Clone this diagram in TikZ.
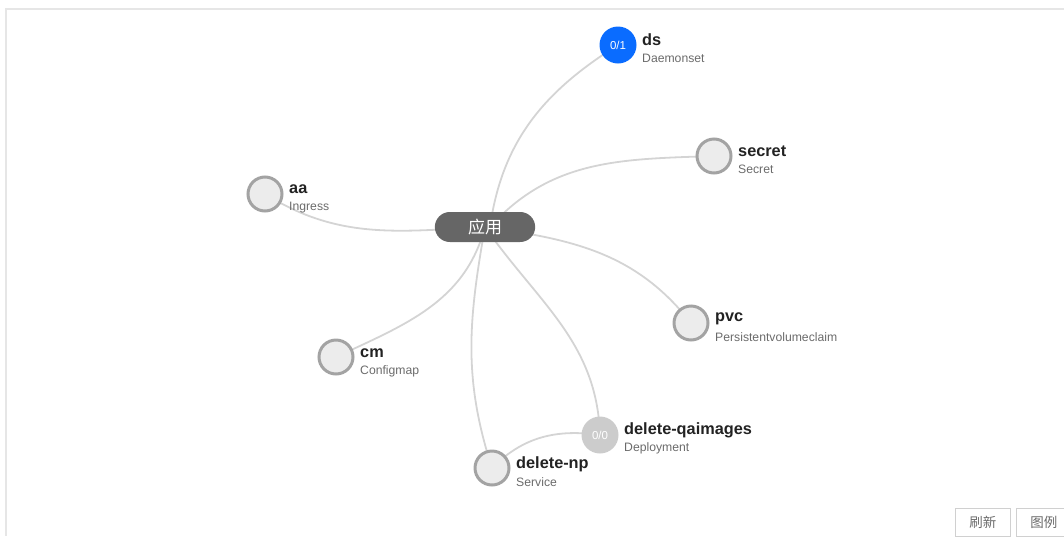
\documentclass[tikz,border=0pt]{standalone}
\usepackage{fontspec}
\setmainfont{Liberation Sans}
\newfontfamily\cjk{Noto Sans CJK SC}
\usetikzlibrary{backgrounds,shapes.misc}
\definecolor{edgec}{HTML}{D4D4D4}
\definecolor{ringc}{HTML}{A3A3A3}
\definecolor{fillc}{HTML}{ECECEC}
\definecolor{appc}{HTML}{666666}
\definecolor{blue1}{HTML}{0A6CFF}
\definecolor{greyc}{HTML}{CCCCCC}
\definecolor{subc}{HTML}{6B6B6B}
\definecolor{titc}{HTML}{222222}
\definecolor{framec}{HTML}{E6E6E6}
\definecolor{btnc}{HTML}{D0D0D0}
\tikzset{
  res/.style={circle, draw=ringc, line width=3pt, fill=fillc, minimum size=34pt, inner sep=0pt},
  resblue/.style={circle, fill=blue1, minimum size=37pt, inner sep=0pt, text=white, font=\fontsize{11.5}{12}\selectfont},
  resgrey/.style={circle, fill=greyc, minimum size=37pt, inner sep=0pt, text=white, font=\fontsize{11.5}{12}\selectfont},
  appbox/.style={rounded rectangle, fill=appc, minimum width=107pt, minimum height=30pt, text=white, font=\cjk\fontsize{17}{18}\selectfont},
  ttl/.style={anchor=west, inner sep=0pt, text=titc, font=\bfseries\fontsize{16.3}{17}\selectfont},
  sub/.style={anchor=west, inner sep=0pt, text=subc, font=\fontsize{12.2}{13}\selectfont},
  edge/.style={draw=edgec, line width=1.8pt},
  btn/.style={draw=btnc, line width=0.8pt, fill=white, minimum width=55pt, minimum height=28pt, anchor=north west, text=subc, font=\cjk\fontsize{13.5}{14}\selectfont},
}
\begin{document}
\begin{tikzpicture}[x=1pt,y=-1pt]
\useasboundingbox (0,0) rectangle (1064,536);
\draw[framec, line width=2pt] (6,536) -- (6,9) -- (1064,9);

\node[appbox] (app) at (485,227) {应用};
\node[resblue] (ds) at (618,45) {0/1};
\node[res] (secret) at (714,156) {};
\node[res] (aa) at (265,194) {};
\node[res] (pvc) at (691,323) {};
\node[res] (cm) at (336,357) {};
\node[resgrey] (qa) at (600,435) {0/0};
\node[res] (np) at (492,468) {};

\node[ttl] (dsT) at (642,40) {ds};
\node[sub] (dsS) at (642,58) {Daemonset};
\node[ttl] (secretT) at (738,151) {secret};
\node[sub] (secretS) at (738,169) {Secret};
\node[ttl] (aaT) at (289,189) {aa};
\node[sub] (aaS) at (289,208) {Ingress};
\node[ttl] (pvcT) at (715,319) {pvc};
\node[sub] (pvcS) at (715,337) {Persistentvolumeclaim};
\node[ttl] (cmT) at (360,353) {cm};
\node[sub] (cmS) at (360,371) {Configmap};
\node[ttl] (qaT) at (624,430) {delete-qaimages};
\node[sub] (qaS) at (624,448) {Deployment};
\node[ttl] (npT) at (516,464) {delete-np};
\node[sub] (npS) at (516,482) {Service};

\node[btn] (b1) at (955,508) {刷新};
\node[btn] (b2) at (1016,508) {图例};

\begin{pgfonlayer}{background}
\draw[edge] ([xshift=5pt]app.center) to[out=82,in=212] (ds.center);
\draw[edge] ([xshift=5pt]app.center) to[out=48,in=182] (secret.center);
\draw[edge] (app.center) to[out=183,in=-32] (aa.center);
\draw[edge] (app.center) to[out=-8,in=128] (pvc.center);
\draw[edge] (app.center) to[out=-105,in=25] (cm.center);
\draw[edge] (app.center) to[out=-100,in=108] (np.center);
\draw[edge] (app.center) to[out=-55,in=92] (qa.center);
\draw[edge] (qa.center) to[out=172,in=45] (np.center);
\end{pgfonlayer}
\end{tikzpicture}
\end{document}
